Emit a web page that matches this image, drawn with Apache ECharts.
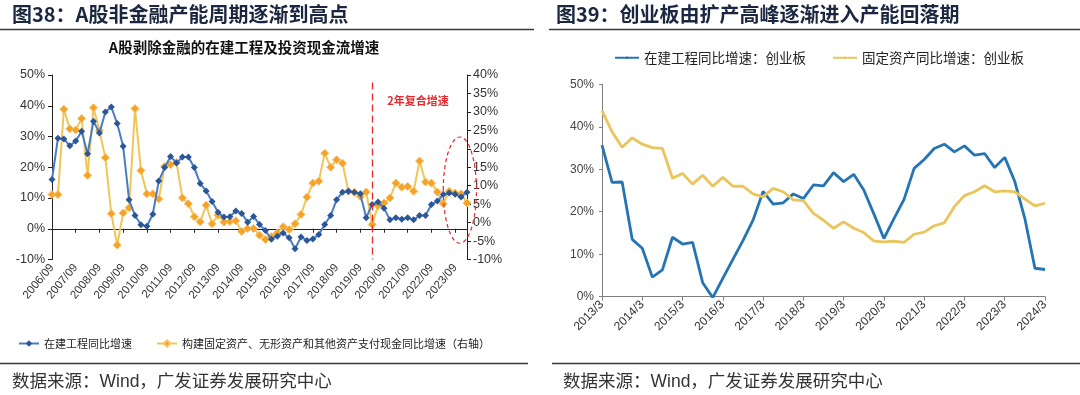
<!DOCTYPE html>
<html>
<head>
<meta charset="utf-8">
<script src="https://cdn.jsdelivr.net/npm/echarts@6/dist/echarts.min.js"></script>
<style>
html,body{margin:0;padding:0;background:#fff;}
#c{width:1080px;height:395px;}
</style>
</head>
<body>
<div id="c"></div>
<script>
// ---------- Left chart (图38) ----------
const leftCategories = [
 '2006/09','2006/12','2007/03','2007/06','2007/09','2007/12','2008/03','2008/06',
 '2008/09','2008/12','2009/03','2009/06','2009/09','2009/12','2010/03','2010/06',
 '2010/09','2010/12','2011/03','2011/06','2011/09','2011/12','2012/03','2012/06',
 '2012/09','2012/12','2013/03','2013/06','2013/09','2013/12','2014/03','2014/06',
 '2014/09','2014/12','2015/03','2015/06','2015/09','2015/12','2016/03','2016/06',
 '2016/09','2016/12','2017/03','2017/06','2017/09','2017/12','2018/03','2018/06',
 '2018/09','2018/12','2019/03','2019/06','2019/09','2019/12','2020/03','2020/06',
 '2020/09','2020/12','2021/03','2021/06','2021/09','2021/12','2022/03','2022/06',
 '2022/09','2022/12','2023/03','2023/06','2023/09','2023/12','2024/03'
];
const cipGrowth = [
 16.0,29.4,29.2,27.0,28.5,31.7,24.4,35.0,31.1,38.0,39.6,34.2,26.8,9.4,4.3,1.3,
 0.8,4.7,15.5,19.9,23.5,21.4,23.3,23.3,19.9,14.7,12.3,8.9,5.4,3.8,3.9,5.8,
 5.0,2.1,4.0,1.4,-0.6,-3.4,-2.4,-1.4,-2.9,-6.5,-2.7,-3.8,-3.3,-1.9,1.4,4.3,
 9.4,11.9,12.2,11.9,11.4,3.6,7.9,8.7,6.7,2.9,3.6,3.1,3.6,2.9,4.3,4.3,
 7.9,9.0,11.1,11.6,11.2,10.3,11.9
];
const capexCashGrowth = [
 7.6,7.6,30.7,25.4,25.1,28.2,12.8,31.1,24.9,17.6,2.4,-6.1,2.6,4.0,30.9,14.1,
 7.8,7.8,6.4,15.2,15.7,16.3,6.7,5.1,1.6,0.2,4.7,-0.3,2.0,0.1,0.3,0.5,
 -2.4,-1.6,-1.6,-3.4,-4.6,-3.8,-2.8,-1.1,-1.9,-0.3,2.2,6.9,10.7,11.2,18.8,15.0,
 17.0,16.1,8.5,8.2,7.1,8.3,-0.5,4.6,5.3,6.7,10.7,9.6,9.8,8.5,16.7,11.0,
 10.7,8.3,5.1,8.5,8.0,7.8,5.3
];
const leftAxisTicks = [-10, 50, 10];   // min, max, interval
const rightAxisTicks = [-10, 40, 5];
const cagrStart = '2020/03';

// ---------- Right chart (图39) ----------
const rightCategories = [
 '2013/3','2013/6','2013/9','2013/12','2014/3','2014/6','2014/9','2014/12',
 '2015/3','2015/6','2015/9','2015/12','2016/3','2016/6','2016/9','2016/12',
 '2017/3','2017/6','2017/9','2017/12','2018/3','2018/6','2018/9','2018/12',
 '2019/3','2019/6','2019/9','2019/12','2020/3','2020/6','2020/9','2020/12',
 '2021/3','2021/6','2021/9','2021/12','2022/3','2022/6','2022/9','2022/12',
 '2023/3','2023/6','2023/9','2023/12','2024/3'
];
const gemCipGrowth = [
 35.7,26.9,27.0,13.5,11.4,4.6,6.3,14.0,12.4,12.8,3.3,-0.2,4.3,8.8,13.2,18.0,
 24.8,21.8,22.1,24.2,23.1,26.3,26.1,29.2,27.1,28.8,25.1,19.5,13.7,18.4,22.9,30.2,
 32.3,34.9,35.9,34.1,35.5,33.3,33.7,30.4,32.8,27.1,18.4,6.7,6.4
];
const gemFixedAssetGrowth = [
 43.8,38.8,35.2,37.4,35.9,35.1,34.9,27.9,29.0,26.5,28.6,26.0,28.1,26.0,26.0,24.2,
 23.5,25.5,24.7,22.8,22.6,19.6,18.0,16.1,17.6,16.1,15.1,13.1,12.9,13.1,12.8,14.7,
 15.2,16.7,17.4,21.2,23.8,24.7,26.1,24.7,24.9,24.7,23.0,21.4,22.0
];
const gemAxisTicks = [0, 50, 10];

const NUM = '"Liberation Sans", Arial, "Noto Sans CJK SC", sans-serif';
const CJK = '"Noto Sans CJK SC", "Liberation Sans", sans-serif';

const chart = echarts.init(document.getElementById('c'), null, {renderer: 'canvas'});

const pct = v => v + '%';

const option = {
  animation: false,
  backgroundColor: '#fff',
  grid: [
    {left: 52, top: 75, width: 415, height: 184.5, containLabel: false},
    {left: 602, top: 84.3, width: 443, height: 212.4, containLabel: false}
  ],
  legend: [
    {
      left: 13, top: 333, itemWidth: 20, itemHeight: 8, itemGap: 24,
      textStyle: {fontFamily: CJK, fontSize: 11, color: '#222'},
      data: ['在建工程同比增速', '构建固定资产、无形资产和其他资产支付现金同比增速（右轴）']
    },
    {
      left: 609, top: 46, itemWidth: 24, itemHeight: 3, itemGap: 26,
      textStyle: {fontFamily: CJK, fontSize: 13.5, color: '#222'},
      data: ['在建工程同比增速：创业板', '固定资产同比增速：创业板']
    }
  ],
  xAxis: [
    { // labels for left chart
      type: 'category', gridIndex: 0, data: leftCategories, boundaryGap: false,
      position: 'bottom',
      axisLine: {show: false, onZero: false}, axisTick: {show: false},
      axisLabel: {interval: 3, rotate: 50, fontFamily: NUM, fontSize: 11.5, color: '#333', margin: 6}
    },
    { // zero line for left chart
      type: 'category', gridIndex: 0, data: leftCategories, boundaryGap: false,
      position: 'bottom',
      axisLine: {show: true, onZero: true, onZeroAxisIndex: 0, lineStyle: {color: '#222', width: 1}},
      axisTick: {show: true, interval: 3, length: 4, lineStyle: {color: '#222'}},
      axisLabel: {show: false}
    },
    { // right chart
      type: 'category', gridIndex: 1, data: rightCategories, boundaryGap: false,
      axisLine: {show: true, lineStyle: {color: '#7f7f7f', width: 1}},
      axisTick: {show: true, interval: 3, length: 4, lineStyle: {color: '#7f7f7f'}},
      axisLabel: {interval: 3, rotate: 45, fontFamily: NUM, fontSize: 12, color: '#333', margin: 6}
    }
  ],
  yAxis: [
    {
      type: 'value', gridIndex: 0, position: 'left',
      min: leftAxisTicks[0], max: leftAxisTicks[1], interval: leftAxisTicks[2],
      axisLine: {show: true, lineStyle: {color: '#222'}},
      axisTick: {show: true, length: 4, lineStyle: {color: '#222'}},
      splitLine: {show: false},
      axisLabel: {formatter: pct, fontFamily: NUM, fontSize: 12.5, color: '#333', margin: 7}
    },
    {
      type: 'value', gridIndex: 0, position: 'right',
      min: rightAxisTicks[0], max: rightAxisTicks[1], interval: rightAxisTicks[2],
      axisLine: {show: true, lineStyle: {color: '#222'}},
      axisTick: {show: true, length: 4, lineStyle: {color: '#222'}},
      splitLine: {show: false},
      axisLabel: {formatter: pct, fontFamily: NUM, fontSize: 12.5, color: '#333', margin: 6}
    },
    {
      type: 'value', gridIndex: 1, position: 'left',
      min: gemAxisTicks[0], max: gemAxisTicks[1], interval: gemAxisTicks[2],
      axisLine: {show: true, lineStyle: {color: '#7f7f7f'}},
      axisTick: {show: true, length: 3, lineStyle: {color: '#7f7f7f'}},
      splitLine: {show: false},
      axisLabel: {formatter: pct, fontFamily: NUM, fontSize: 12, color: '#444', margin: 8}
    }
  ],
  series: [
    {
      name: '在建工程同比增速', type: 'line', xAxisIndex: 0, yAxisIndex: 0,
      data: cipGrowth, symbol: 'diamond', symbolSize: 7, showAllSymbol: true,
      lineStyle: {color: '#4A7CC4', width: 2},
      itemStyle: {color: '#2B5797', borderWidth: 0},
      z: 3
    },
    {
      name: '构建固定资产、无形资产和其他资产支付现金同比增速（右轴）', type: 'line',
      xAxisIndex: 0, yAxisIndex: 1,
      data: capexCashGrowth, symbol: 'diamond', symbolSize: 8, showAllSymbol: true,
      lineStyle: {color: '#EDC75A', width: 2},
      itemStyle: {color: '#F5A229', borderColor: '#F8C060', borderWidth: 1},
      z: 2,
      markLine: {
        silent: true, symbol: 'none',
        label: {show: false},
        lineStyle: {color: '#E8282B', type: [7, 4], width: 1.3},
        data: [[{coord: [cagrStart, 38]}, {coord: [cagrStart, -10]}]]
      }
    },
    {
      name: '在建工程同比增速：创业板', type: 'line', xAxisIndex: 2, yAxisIndex: 2,
      data: gemCipGrowth, symbol: 'none',
      lineStyle: {color: '#2574B4', width: 2.8},
      itemStyle: {color: '#2574B4'}
    },
    {
      name: '固定资产同比增速：创业板', type: 'line', xAxisIndex: 2, yAxisIndex: 2,
      data: gemFixedAssetGrowth, symbol: 'none',
      lineStyle: {color: '#EAC55B', width: 2.8},
      itemStyle: {color: '#EAC55B'}
    }
  ],
  graphic: [
    {id: 't38', type: 'text', x: 12, y: 14, style: {text: '图38：A股非金融产能周期逐渐到高点', font: 'bold 20px ' + CJK, fill: '#1B2740', verticalAlign: 'middle', textVerticalAlign: 'middle'}},
    {id: 't39', type: 'text', x: 556, y: 14, style: {text: '图39：创业板由扩产高峰逐渐进入产能回落期', font: 'bold 20px ' + CJK, fill: '#1B2740', verticalAlign: 'middle', textVerticalAlign: 'middle'}},
    {id: 'l1', type: 'line', shape: {x1: 0, y1: 29.5, x2: 534, y2: 29.5}, style: {stroke: '#3a3a3a', lineWidth: 1.5}},
    {id: 'l2', type: 'line', shape: {x1: 549, y1: 29.5, x2: 1080, y2: 29.5}, style: {stroke: '#3a3a3a', lineWidth: 1.5}},
    {id: 'l3', type: 'line', shape: {x1: 0, y1: 363.5, x2: 528, y2: 363.5}, style: {stroke: '#3a3a3a', lineWidth: 1.5}},
    {id: 'l4', type: 'line', shape: {x1: 552, y1: 363.5, x2: 1080, y2: 363.5}, style: {stroke: '#3a3a3a', lineWidth: 1.5}},
    {id: 'sub', type: 'text', x: 244, y: 47, style: {text: 'A股剥除金融的在建工程及投资现金流增速', font: 'bold 14.5px ' + CJK, fill: '#111', align: 'center', textAlign: 'center', verticalAlign: 'middle', textVerticalAlign: 'middle'}},
    {id: 's1', type: 'text', x: 12, y: 382, style: {text: '数据来源：Wind，广发证券发展研究中心', font: '17.5px ' + NUM, fill: '#333', verticalAlign: 'middle', textVerticalAlign: 'middle'}},
    {id: 's2', type: 'text', x: 563, y: 382, style: {text: '数据来源：Wind，广发证券发展研究中心', font: '17.5px ' + NUM, fill: '#333', verticalAlign: 'middle', textVerticalAlign: 'middle'}}
  ]
};
chart.setOption(option);

// annotations anchored to data coordinates
const f = {xAxisIndex: 0, yAxisIndex: 1};
const pA = chart.convertToPixel(f, [66, 0]);
const pB = chart.convertToPixel(f, [70, 0]);
const perQ = (pB[0] - pA[0]) / 4;
const yTop = chart.convertToPixel(f, [66, 23.2])[1];
const yBot = chart.convertToPixel(f, [66, -5.6])[1];
const cx = pA[0] + 2.8 * perQ;
const pLine = chart.convertToPixel(f, [cagrStart, 33]);
chart.setOption({
  graphic: [
    {id: 'ell', type: 'ellipse', shape: {cx: cx, cy: (yTop + yBot) / 2, rx: 2.8 * perQ, ry: (yBot - yTop) / 2},
     style: {fill: 'none', stroke: '#E8282B', lineWidth: 1.2, lineDash: [4, 3]}, z: 10},
    {id: 'cagr', type: 'text', x: pLine[0] + 15, y: pLine[1], style: {text: '2年复合增速', font: 'bold 11px ' + CJK, fill: '#E8282B', verticalAlign: 'middle', textVerticalAlign: 'middle'}, z: 10}
  ]
});
</script>
</body>
</html>
